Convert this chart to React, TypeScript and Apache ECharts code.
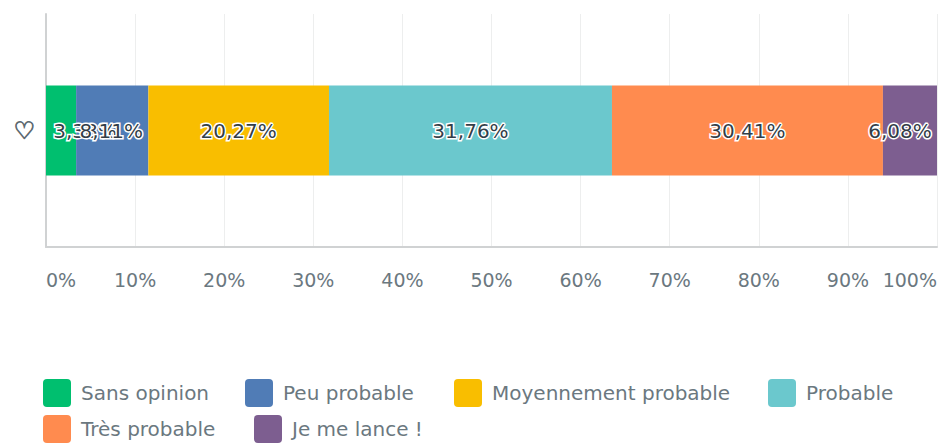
import React, { useEffect, useRef } from "react";
import * as echarts from "echarts";

const categories = ["♡"];
const seriesNames = ["Sans opinion", "Peu probable", "Moyennement probable", "Probable", "Très probable", "Je me lance !"];
const seriesValues = [3.38, 8.11, 20.27, 31.76, 30.41, 6.08];
const colors = ["#00bf6f", "#507cb6", "#f9be00", "#6bc8cd", "#ff8b4f", "#7d5e90"];

const FONT = "'DejaVu Sans'";
const ICON = "path://M4 0H24A4 4 0 0 1 28 4V24A4 4 0 0 1 24 28H4A4 4 0 0 1 0 24V4A4 4 0 0 1 4 0Z";

// layout only: where each legend entry and label sits
const labelOffsets = [24, -1, 0, 0, 0, -10];
const legendLayout = [
  { left: 43, top: 379 },
  { left: 245, top: 379 },
  { left: 454, top: 379 },
  { left: 768, top: 379 },
  { left: 43, top: 415 },
  { left: 254, top: 415 },
];

export default function App() {
  const ref = useRef<HTMLDivElement>(null);
  useEffect(() => {
    document.body.style.margin = "0";
    const chart = echarts.init(ref.current!, null, { renderer: "svg" });
    chart.setOption({
      animation: false,
      backgroundColor: "#ffffff",
      color: colors,
      grid: { left: 46, right: 1, top: 14, bottom: 197 },
      legend: seriesNames.map((name, i) => ({
        ...legendLayout[i],
        orient: "horizontal",
        itemWidth: 28,
        itemHeight: 28,
        padding: 0,
        icon: ICON,
        data: [name],
        textStyle: { fontFamily: FONT, fontSize: 20, color: "#6b787f", padding: [0, 0, 0, 5] },
      })),
      xAxis: {
        type: "value",
        min: 0,
        max: 100,
        interval: 10,
        axisLine: { show: true, lineStyle: { color: "#d0d2d3", width: 2 } },
        axisTick: { show: false },
        splitLine: { show: true, lineStyle: { color: "#edeeee", width: 1 } },
        axisLabel: {
          formatter: "{value}%",
          margin: 23,
          fontFamily: FONT,
          fontSize: 19,
          color: "#6b787f",
          alignMinLabel: "left",
          alignMaxLabel: "right",
        },
      },
      yAxis: {
        type: "category",
        data: categories,
        axisLine: { show: true, lineStyle: { color: "#d0d2d3", width: 2 } },
        axisTick: { show: false },
        axisLabel: {
          margin: 11,
          fontFamily: FONT,
          fontSize: 24,
          color: "#5f6b72",
          textBorderColor: "#5f6b72",
          textBorderWidth: 1,
        },
      },
      series: seriesNames.map((name, i) => ({
        type: "bar",
        name,
        stack: "total",
        barWidth: 90,
        data: [seriesValues[i]],
        itemStyle: { color: colors[i] },
        label: {
          show: true,
          position: "inside",
          offset: [labelOffsets[i], 0],
          formatter: (p: any) => p.value.toFixed(2).replace(".", ",") + "%",
          fontFamily: FONT,
          fontSize: 20,
          color: "#333e48",
          textBorderColor: "#ffffff",
          textBorderWidth: 3,
        },
      })),
    });
    return () => chart.dispose();
  }, []);
  return <div ref={ref} style={{ width: 940, height: 444 }} />;
}
